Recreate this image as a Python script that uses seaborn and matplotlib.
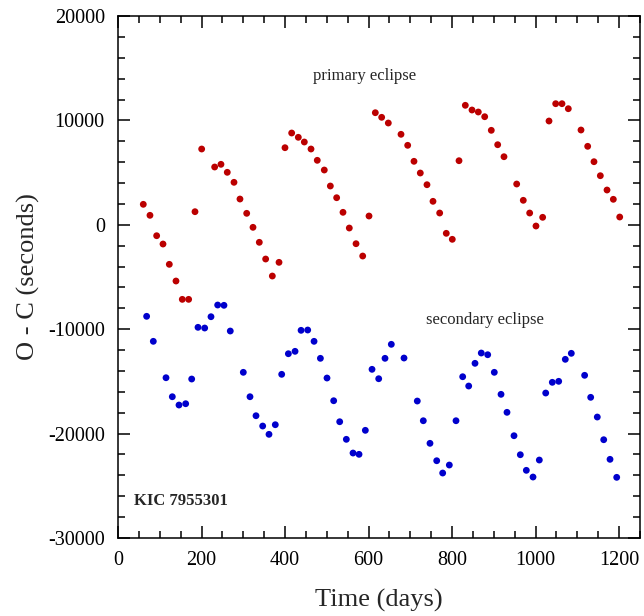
import numpy as np
import pandas as pd
import seaborn as sns
import matplotlib
matplotlib.use("Agg")
from matplotlib import pyplot as plt
from matplotlib.ticker import MultipleLocator

# O-C values (time in days, O-C in seconds)
prim_t = [60.6, 76.6, 92.6, 107.8, 122.9, 138.9, 154, 169.2, 184.4, 200.4,
          231.5, 246.6, 261.7, 277.8, 292.1, 308.2, 323.3, 338.4, 353.6, 369.6,
          385.6, 399.9, 415.9, 431.8, 446.2, 462.2, 477.2, 494, 508.5, 523.6,
          538.8, 553.9, 570, 586, 601.1, 616.2, 631.4, 647.3, 677.7, 693.7,
          708.8, 723.9, 739.9, 754.3, 770.3, 786.1, 800.5, 816.6, 831.7, 847.7,
          862.8, 878.1, 893.9, 909.2, 924.3, 954.7, 970.5, 985.8, 1000.9, 1016.9,
          1032.1, 1048.1, 1063.2, 1078.3, 1108.7, 1124.7, 1139.8, 1155, 1171, 1186.1,
          1201.4]
prim_oc = [1963, 910, -1044, -1840, -3785, -5383, -7140, -7140, 1257, 7261,
           5537, 5795, 5029, 4071, 2470, 1100, -240, -1676, -3276, -4905,
           -3594, 7386, 8794, 8382, 7932, 7261, 6178, 5249, 3717, 2596,
           1197, -307, -1810, -2990, 843, 10738, 10297, 9751, 8669, 7615,
           6083, 4962, 3841, 2251, 1130, -815, -1389, 6140, 11447, 10997,
           10805, 10355, 9052, 7673, 6523, 3908, 2347, 1130, -115, 718,
           9943, 11601, 11601, 11122, 9081, 7519, 6045, 4704, 3334, 2443,
           747]

sec_t = [68.6, 84.6, 115, 130.1, 146.1, 162.1, 176.5, 191.6, 207.6, 222.7,
         238.7, 253.8, 268.9, 300.1, 316.1, 330.5, 346.5, 361.6, 376.7, 392,
         408, 424, 438.4, 454.3, 469.5, 484.7, 500.5, 516.5, 530.9, 546.8,
         562.8, 577.2, 592.3, 608.3, 624.3, 639.4, 654.5, 684.9, 716.7, 731.1,
         747.1, 763.2, 777.5, 793.4, 809.4, 825.4, 839.8, 854.9, 869.9, 885.3,
         901.1, 917.2, 931.5, 948.3, 963.4, 977.8, 993.8, 1008.9, 1024.2, 1040,
         1055.3, 1071.1, 1085.5, 1117.4, 1131.9, 1147.7, 1163.1, 1178.2, 1194.2]
sec_oc = [-8765, -11160, -14647, -16467, -17262, -17137, -14771, -9819, -9886, -8803,
          -7682, -7711, -10173, -14129, -16467, -18287, -19274, -20068, -19148, -14321,
          -12348, -12118, -10106, -10077, -11160, -12788, -14675, -16850, -18862, -20547,
          -21860, -21984, -19685, -13842, -14742, -12788, -11447, -12760, -16879, -18766,
          -20930, -22597, -23775, -23009, -18766, -14551, -15442, -13267, -12280, -12443,
          -14129, -16237, -17961, -20202, -22022, -23517, -24159, -22530, -16112, -15087,
          -14991, -12884, -12309, -14416, -16524, -18411, -20585, -22463, -24188]

df = pd.concat([
    pd.DataFrame({"t": prim_t, "oc": prim_oc, "eclipse": "primary"}),
    pd.DataFrame({"t": sec_t, "oc": sec_oc, "eclipse": "secondary"}),
])

sns.set_style("ticks")
plt.rcParams["font.family"] = ["Liberation Serif", "DejaVu Serif"]
plt.rcParams["axes.unicode_minus"] = False

fig = plt.figure(figsize=(6.44, 6.16), dpi=100)
ax = fig.add_axes([0.1832, 0.1266, 0.8106, 0.8474])

sns.scatterplot(data=df, x="t", y="oc", hue="eclipse",
                palette={"primary": "#BB0000", "secondary": "#0000CC"},
                s=24, edgecolor="none", legend=False, ax=ax)

ax.set_xlim(0, 1250)
ax.set_ylim(-30000, 20000)
ax.xaxis.set_major_locator(MultipleLocator(200))
ax.xaxis.set_minor_locator(MultipleLocator(50))
ax.yaxis.set_major_locator(MultipleLocator(10000))
ax.yaxis.set_minor_locator(MultipleLocator(2000))
ax.tick_params(which="both", direction="in", top=True, right=True,
               width=1.1, labelsize=14.5, colors="black")
ax.tick_params(which="major", length=8.5)
ax.tick_params(which="minor", length=5)
ax.tick_params(axis="x", pad=9)
ax.tick_params(axis="y", pad=9.5)
for sp in ax.spines.values():
    sp.set_visible(True)
    sp.set_linewidth(1.1)
    sp.set_color("black")

ax.set_xlabel("Time (days)", fontsize=19, labelpad=14)
ax.set_ylabel("O - C (seconds)", fontsize=19, labelpad=6)

ax.text(591, 14254, "primary eclipse", fontsize=12, ha="center", va="center")
ax.text(878, -9120, "secondary eclipse", fontsize=12, ha="center", va="center")
ax.text(38, -26460, "KIC 7955301", fontsize=12, fontweight="bold",
        ha="left", va="center")

fig.savefig("out.png", dpi=100)
